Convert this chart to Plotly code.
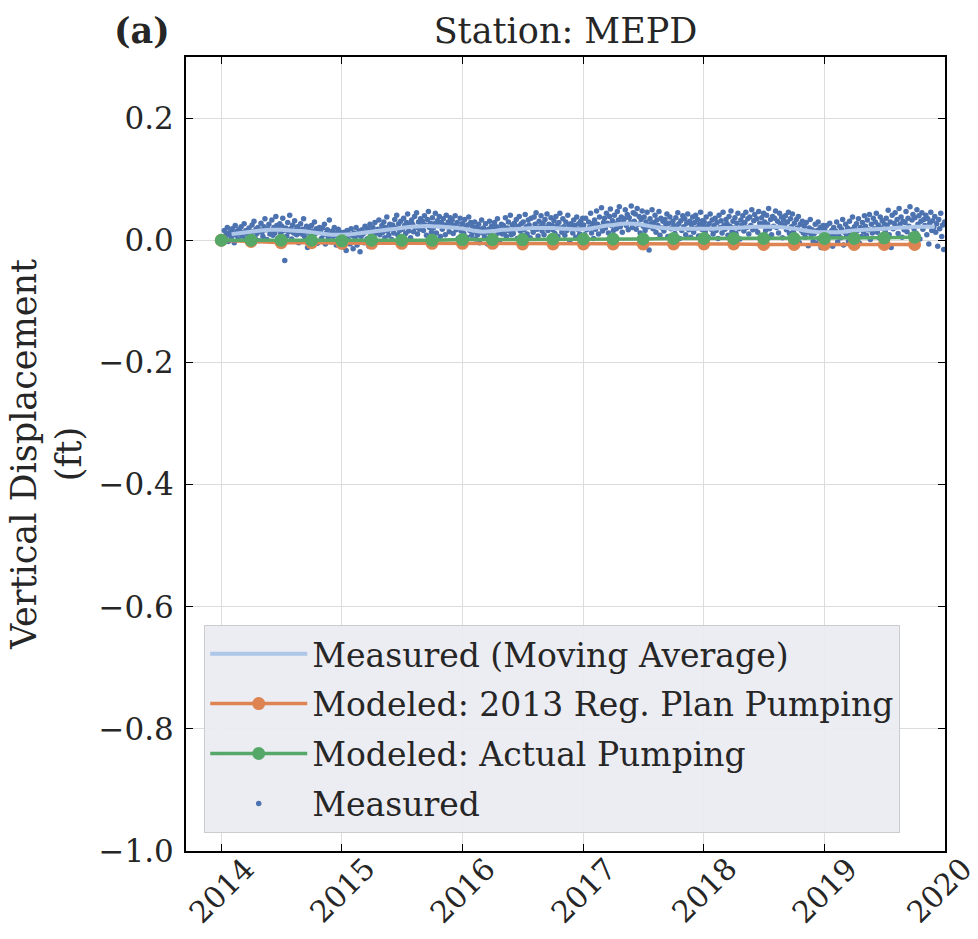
import pandas as pd
import plotly.graph_objects as go

# measured vertical displacement (ft), one reading every 3 days, one row per month
meas_2014 = [
    0.016, 0.003, 0.011, 0.021, -0.002, 0.009, 0.014,
    0.005, 0.019, 0.012, -0.004, 0.024, 0.008, 0.015, 0.001, 0.018, 0.010,
    0.022, 0.007, 0.013, 0.027, 0.002, 0.016, 0.010, -0.003, 0.020, 0.012,
    0.009, 0.025, 0.014, 0.031, 0.004, 0.018, 0.011, 0.021, -0.001, 0.016,
    0.028, 0.013, 0.006, 0.022, 0.035, 0.017, 0.001, 0.019, 0.026, 0.010,
    0.015, 0.033, 0.008, 0.021, 0.012, 0.039, 0.024, 0.003, 0.018, 0.027,
    0.011, 0.023, 0.036, 0.016, -0.033, 0.020, 0.007, 0.029, 0.014, 0.041,
    0.019, 0.002, 0.025, 0.012, 0.032, 0.017, 0.009, 0.022, -0.004, 0.015,
    0.027, 0.010, 0.018, 0.035, 0.006, 0.014, 0.023, -0.012, 0.020, 0.012,
    0.008, 0.024, 0.015, 0.001, 0.030, 0.011, 0.019, -0.005, 0.013, 0.021,
    0.014, 0.003, 0.020, 0.009, 0.026, -0.006, 0.012, 0.017, 0.005, 0.033,
    0.010, -0.003, 0.015, 0.006, 0.021, 0.012, -0.008, 0.008, 0.018, 0.002, 0.013,
]
meas_2015 = [
    0.004, -0.011, 0.013, 0.007, -0.017, 0.016, 0.001, 0.010, -0.006, 0.019, 0.008,
    -0.014, 0.012, 0.003, 0.021, -0.008, 0.009, 0.015, -0.019, 0.006, 0.017,
    0.010, -0.004, 0.023, 0.014, 0.002, 0.019, -0.010, 0.026, 0.008, 0.015,
    0.021, 0.006, 0.029, 0.012, -0.002, 0.018, 0.033, 0.009, 0.016, 0.024,
    0.013, 0.030, 0.004, 0.021, 0.038, 0.015, 0.008, 0.026, 0.019, 0.001,
    0.025, 0.012, 0.034, 0.020, 0.041, 0.009, 0.027, 0.016, 0.031, 0.006,
    0.018, 0.036, 0.024, 0.011, 0.029, 0.043, 0.015, 0.027, 0.004, 0.033,
    0.026, 0.014, 0.039, 0.021, 0.045, 0.010, 0.030, 0.018, 0.035, 0.023,
    0.031, 0.016, 0.040, 0.025, 0.008, 0.034, 0.047, 0.021, 0.028, 0.013,
    0.037, 0.020, 0.027, 0.044, 0.012, 0.032, 0.024, 0.039, 0.006, 0.029,
    0.018, 0.035, 0.025, 0.009, 0.041, 0.022, 0.030, 0.014, 0.037, 0.026,
    0.033, 0.011, 0.024, 0.040, 0.017, 0.029, 0.003, 0.021, 0.036, 0.015, 0.027,
]
meas_2016 = [
    0.027, 0.011, 0.034, 0.020, 0.005, 0.025, 0.038, 0.016, 0.029, 0.008, 0.022,
    0.014, 0.030, 0.002, 0.021, 0.009, 0.026, -0.004, 0.018, 0.033, 0.012,
    0.020, 0.005, 0.027, 0.013, -0.006, 0.018, 0.031, 0.009, 0.023, 0.001,
    0.016, 0.029, 0.007, 0.022, 0.035, 0.012, -0.002, 0.019, 0.026, 0.010,
    0.024, 0.013, 0.037, 0.006, 0.020, 0.030, 0.015, 0.041, 0.009, 0.025,
    0.011, 0.028, 0.019, 0.034, 0.003, 0.023, 0.039, 0.015, 0.027, 0.008,
    0.030, 0.017, 0.042, 0.022, 0.010, 0.033, 0.025, 0.004, 0.036, 0.019,
    0.013, 0.038, 0.026, 0.045, 0.018, 0.007, 0.031, 0.022, 0.040, 0.015,
    0.028, 0.009, 0.034, 0.021, 0.043, 0.016, 0.026, 0.002, 0.037, 0.024,
    0.017, 0.032, 0.011, 0.039, 0.024, 0.006, 0.029, 0.044, 0.020, 0.013,
    0.035, 0.022, 0.008, 0.030, 0.016, 0.041, 0.025, -0.001, 0.027, 0.019,
    0.012, 0.033, 0.024, 0.005, 0.038, 0.018, 0.027, 0.010, 0.031, 0.021, 0.036,
]
meas_2017 = [
    0.025, 0.009, 0.036, 0.017, -0.006, 0.030, 0.021, 0.044, 0.012, 0.027, 0.003,
    0.033, 0.018, 0.048, 0.026, 0.010, 0.038, 0.022, 0.053, 0.015, 0.029,
    0.036, 0.020, 0.044, 0.028, 0.012, 0.039, 0.051, 0.024, 0.032, 0.016,
    0.041, 0.027, 0.019, 0.047, 0.033, 0.055, 0.022, 0.038, 0.013, 0.030,
    0.035, 0.050, 0.024, 0.042, 0.017, 0.037, 0.029, 0.056, 0.021, 0.045,
    0.031, 0.043, 0.018, 0.052, 0.026, 0.039, 0.012, 0.034, 0.048, 0.023,
    0.038, 0.016, 0.030, 0.046, 0.022, -0.016, 0.035, 0.027, 0.050, 0.019,
    0.029, 0.041, 0.013, 0.033, 0.024, 0.047, 0.008, 0.036, 0.020, 0.031,
    0.015, 0.034, 0.026, 0.043, 0.006, 0.028, 0.038, 0.019, -0.008, 0.031,
    0.024, 0.011, 0.037, 0.020, 0.045, 0.027, 0.003, 0.032, 0.016, 0.040,
    0.022, 0.035, 0.009, 0.028, 0.043, 0.017, 0.031, 0.005, 0.025, 0.038,
    0.013, 0.029, 0.041, 0.020, 0.034, 0.007, 0.026, 0.046, 0.018, 0.032, 0.023,
]
meas_2018 = [
    0.030, 0.014, 0.038, 0.022, 0.005, 0.027, 0.043, 0.018, 0.033, 0.010, 0.024,
    0.036, 0.016, 0.029, 0.003, 0.041, 0.021, 0.032, 0.012, 0.046, 0.025,
    0.018, 0.034, 0.027, 0.008, 0.039, 0.023, 0.048, 0.014, 0.031, 0.020,
    0.037, 0.011, 0.028, 0.044, 0.019, 0.002, 0.033, 0.025, 0.040, 0.015,
    0.029, 0.046, 0.021, 0.035, 0.010, 0.038, 0.024, 0.050, 0.017, 0.032,
    0.042, 0.020, 0.035, 0.013, 0.047, 0.028, 0.006, 0.037, 0.024, 0.044,
    0.030, 0.016, 0.041, 0.026, 0.052, 0.019, 0.034, 0.009, 0.039, 0.023,
    0.036, 0.048, 0.021, 0.031, 0.012, 0.044, 0.027, 0.038, 0.004, 0.033,
    0.025, 0.040, 0.017, 0.030, 0.046, 0.011, 0.035, 0.022, 0.043, 0.014,
    0.028, 0.008, 0.034, 0.020, 0.039, -0.004, 0.026, 0.016, 0.031, 0.012,
    0.023, 0.005, 0.029, 0.013, -0.009, 0.020, 0.034, 0.009, 0.017, -0.002,
    0.011, 0.026, -0.005, 0.016, 0.030, 0.003, 0.021, -0.012, 0.014, 0.024, 0.007,
]
meas_2019 = [
    0.019, 0.002, 0.024, -0.007, 0.012, 0.028, 0.006, 0.016, -0.010, 0.021, 0.009,
    0.015, 0.030, -0.003, 0.010, 0.023, 0.004, 0.018, 0.034, -0.008, 0.013,
    0.026, 0.007, 0.020, -0.002, 0.031, 0.012, 0.017, 0.038, 0.001, 0.022,
    0.010, 0.027, 0.016, 0.035, -0.005, 0.021, 0.006, 0.029, 0.014, 0.040,
    0.023, 0.008, 0.033, 0.017, 0.042, 0.001, 0.026, 0.012, 0.036, 0.019,
    0.030, 0.044, 0.013, 0.025, 0.004, 0.038, 0.020, 0.032, -0.002, 0.027,
    0.015, 0.036, 0.024, 0.049, 0.009, 0.030, -0.012, 0.041, 0.019, 0.028,
    0.045, 0.022, 0.034, 0.011, 0.052, 0.026, 0.038, 0.005, 0.031, 0.017,
    0.029, 0.047, 0.014, 0.036, 0.023, 0.055, 0.008, 0.033, 0.042, 0.019,
    0.037, 0.012, 0.050, 0.026, 0.040, 0.002, 0.031, 0.045, 0.018, 0.034,
    0.024, 0.041, 0.009, 0.035, -0.006, 0.028, 0.046, 0.016, 0.032, 0.021,
    0.039, 0.013, 0.027, -0.010, 0.034, 0.019, 0.044, 0.006, 0.025, -0.015, 0.030,
]

# moving average of measured, monthly (Feb 2014 - Dec 2019)
moving_avg = [
    0.010, 0.012, 0.014, 0.016, 0.017, 0.017, 0.016, 0.015, 0.013, 0.011, 0.009,
    0.009, 0.010, 0.012, 0.014, 0.016, 0.018, 0.020, 0.022, 0.023, 0.023, 0.022, 0.021,
    0.019, 0.016, 0.014, 0.015, 0.017, 0.018, 0.019, 0.020, 0.020, 0.020, 0.019, 0.018,
    0.018, 0.020, 0.023, 0.025, 0.027, 0.027, 0.025, 0.022, 0.020, 0.019, 0.019, 0.019,
    0.019, 0.019, 0.020, 0.020, 0.021, 0.022, 0.022, 0.022, 0.021, 0.019, 0.016, 0.014,
    0.013, 0.013, 0.014, 0.016, 0.017, 0.018, 0.019, 0.020, 0.021, 0.022, 0.022, 0.022,
]

# modeled, quarterly (Jan 2014 - Oct 2019)
modeled_reg_plan = [
    0.000, -0.002, -0.004, -0.004, -0.005, -0.005, -0.005, -0.005,
    -0.005, -0.005, -0.006, -0.006, -0.006, -0.006, -0.006, -0.006,
    -0.006, -0.006, -0.007, -0.007, -0.007, -0.007, -0.007, -0.007,
]
modeled_actual = [
    0.000, 0.000, 0.000, 0.000, -0.001, 0.000, 0.000, 0.000,
    0.001, 0.001, 0.001, 0.002, 0.002, 0.002, 0.002, 0.003,
    0.003, 0.003, 0.003, 0.003, 0.003, 0.003, 0.004, 0.005,
]

year_ticks = ["2014", "2015", "2016", "2017", "2018", "2019", "2020"]
y_ticks = [0.2, 0.0, -0.2, -0.4, -0.6, -0.8, -1.0]

meas_dates = [pd.date_range("2014-01-10", periods=len(meas_2014), freq="3D")]
meas_vals = list(meas_2014)
for yr, vals in [(2015, meas_2015), (2016, meas_2016), (2017, meas_2017),
                 (2018, meas_2018), (2019, meas_2019)]:
    meas_dates.append(pd.date_range(f"{yr}-01-02", periods=len(vals), freq="3D"))
    meas_vals += vals
meas_x = pd.DatetimeIndex([d for rng in meas_dates for d in rng])

ma_x = pd.date_range("2014-02-01", periods=len(moving_avg), freq="MS")
model_x = pd.date_range("2014-01-01", periods=len(modeled_actual), freq="QS")

FONT = "DejaVu Serif"
TEXT = "#262626"
BLUE = "#4c72b0"
LIGHT_BLUE = "#aec7e8"
ORANGE = "#dd8452"
GREEN = "#55a868"

fig = go.Figure()

fig.add_trace(go.Scatter(
    x=meas_x, y=meas_vals, mode="markers", name="Measured",
    marker=dict(color=BLUE, size=5.5), legendrank=4, legendgroup="d",
))
fig.add_trace(go.Scatter(
    x=ma_x, y=moving_avg, mode="lines", name="Measured (Moving Average)",
    line=dict(color=LIGHT_BLUE, width=4, shape="spline"),
    legendrank=1, legendgroup="a",
))
fig.add_trace(go.Scatter(
    x=model_x, y=modeled_reg_plan, mode="lines+markers",
    name="Modeled: 2013 Reg. Plan Pumping",
    line=dict(color=ORANGE, width=3.5), marker=dict(color=ORANGE, size=13),
    legendrank=2, legendgroup="b",
))
fig.add_trace(go.Scatter(
    x=model_x, y=modeled_actual, mode="lines+markers",
    name="Modeled: Actual Pumping",
    line=dict(color=GREEN, width=3.5), marker=dict(color=GREEN, size=13),
    legendrank=3, legendgroup="c",
))

axis_common = dict(
    showline=True, linecolor="black", linewidth=2, mirror="ticks",
    ticks="inside", ticklen=7, tickwidth=1.3, tickcolor="black",
    showgrid=True, gridcolor="#dcdcdc", gridwidth=1.2, zeroline=False,
    tickfont=dict(family=FONT, size=31, color=TEXT), automargin=False,
)

fig.update_layout(
    width=978, height=939,
    margin=dict(l=186, r=33, t=57, b=88),
    paper_bgcolor="white", plot_bgcolor="white",
    font=dict(family=FONT, color=TEXT),
    title=dict(text="Station: MEPD", x=(186 + 945) / 2 / 978, xanchor="center",
               y=1 - 31 / 939, yanchor="middle",
               font=dict(family=FONT, size=35, color=TEXT)),
    xaxis=dict(
        type="date", range=["2013-09-16", "2020-01-01"],
        tickvals=[f"{y}-01-01" for y in year_ticks], showticklabels=False,
        **axis_common,
    ),
    yaxis=dict(
        range=[-1.0, 0.3], tickvals=y_ticks,
        ticktext=[f"{v:.1f}".replace("-", "\u2212") for v in y_ticks],
        ticklabelstandoff=4,
        title=dict(text="Vertical Displacement<br>(ft)",
                   font=dict(family=FONT, size=35, color=TEXT), standoff=6),
        **axis_common,
    ),
    legend=dict(
        x=0.024, y=0.023, xanchor="left", yanchor="bottom",
        bgcolor="rgba(234,234,242,0.92)", bordercolor="#cccccc", borderwidth=1,
        font=dict(family=FONT, size=33, color=TEXT),
        itemwidth=97, tracegroupgap=4, traceorder="grouped",
    ),
    showlegend=True,
)

# rotated year labels centred under each tick (matplotlib-style)
for yr in year_ticks:
    fig.add_annotation(
        text=yr, x=f"{yr}-01-01", xref="x", y=0, yref="paper",
        xanchor="center", yanchor="top", yshift=3, textangle=-45,
        xshift=-6 if yr == year_ticks[-1] else 0,
        showarrow=False, font=dict(family=FONT, size=30, color=TEXT),
    )

fig.add_annotation(
    text="<b>(a)</b>", xref="paper", yref="paper", x=-0.018, y=1.0,
    xanchor="right", yanchor="middle", showarrow=False, yshift=27,
    font=dict(family=FONT, size=35, color=TEXT),
)

fig.write_html("out.html", config={"displayModeBar": False},
               post_script="document.body.style.margin='0';")
